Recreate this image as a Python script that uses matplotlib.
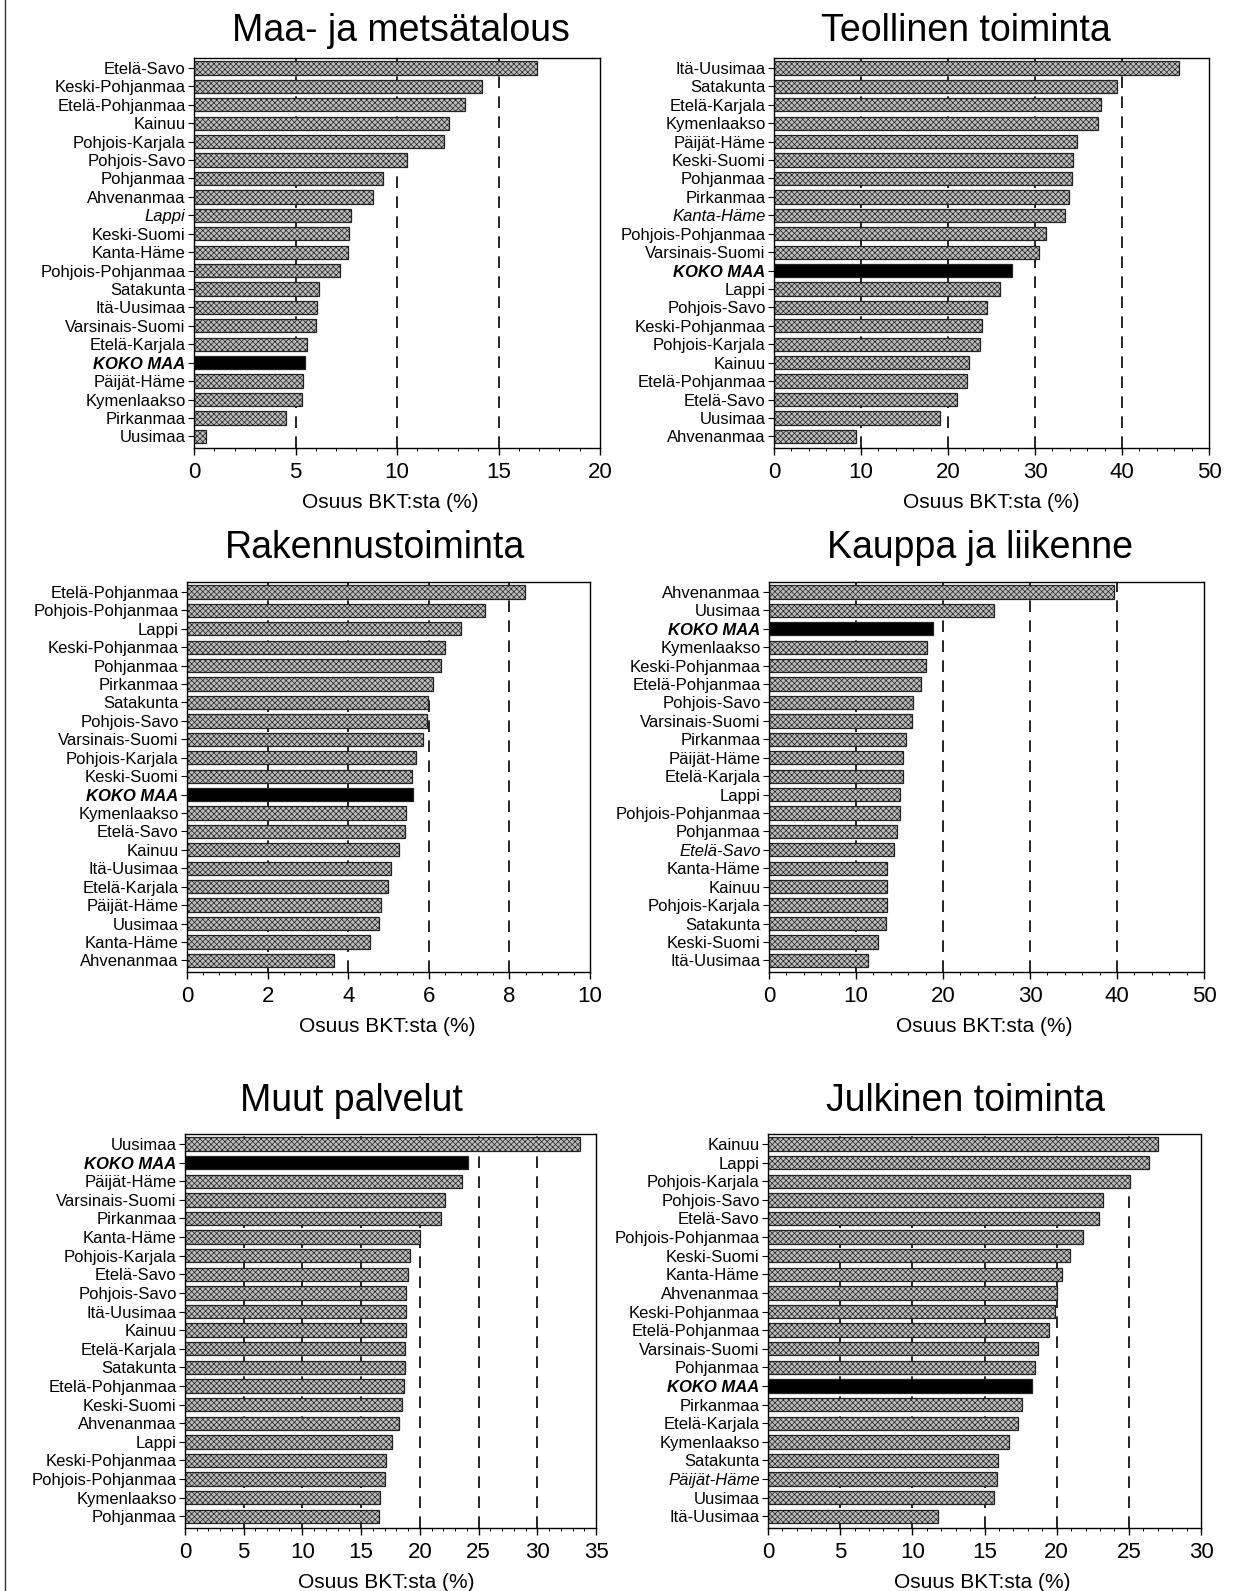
import numpy as np
import matplotlib
matplotlib.use("Agg")
import matplotlib.pyplot as plt
from matplotlib.lines import Line2D

plt.rcParams['font.family'] = ['Liberation Sans', 'DejaVu Sans']
plt.rcParams['hatch.color'] = '#5a5a5a'
plt.rcParams['hatch.linewidth'] = 0.5

# --- data, listed top -> bottom ---
maa_labels = ["Etelä-Savo", "Keski-Pohjanmaa", "Etelä-Pohjanmaa", "Kainuu", "Pohjois-Karjala",
              "Pohjois-Savo", "Pohjanmaa", "Ahvenanmaa", "Lappi", "Keski-Suomi", "Kanta-Häme",
              "Pohjois-Pohjanmaa", "Satakunta", "Itä-Uusimaa", "Varsinais-Suomi", "Etelä-Karjala",
              "KOKO MAA", "Päijät-Häme", "Kymenlaakso", "Pirkanmaa", "Uusimaa"]
maa_values = [16.9, 14.2, 13.35, 12.55, 12.3, 10.5, 9.3, 8.8, 7.75, 7.65, 7.6,
              7.2, 6.15, 6.05, 6.0, 5.55, 5.45, 5.35, 5.3, 4.55, 0.6]

teol_labels = ["Itä-Uusimaa", "Satakunta", "Etelä-Karjala", "Kymenlaakso", "Päijät-Häme",
               "Keski-Suomi", "Pohjanmaa", "Pirkanmaa", "Kanta-Häme", "Pohjois-Pohjanmaa",
               "Varsinais-Suomi", "KOKO MAA", "Lappi", "Pohjois-Savo", "Keski-Pohjanmaa",
               "Pohjois-Karjala", "Kainuu", "Etelä-Pohjanmaa", "Etelä-Savo", "Uusimaa", "Ahvenanmaa"]
teol_values = [46.5, 39.4, 37.6, 37.2, 34.8, 34.4, 34.2, 33.9, 33.4, 31.3,
               30.5, 27.4, 26.0, 24.5, 23.9, 23.7, 22.4, 22.2, 21.0, 19.1, 9.4]

rak_labels = ["Etelä-Pohjanmaa", "Pohjois-Pohjanmaa", "Lappi", "Keski-Pohjanmaa", "Pohjanmaa",
              "Pirkanmaa", "Satakunta", "Pohjois-Savo", "Varsinais-Suomi", "Pohjois-Karjala",
              "Keski-Suomi", "KOKO MAA", "Kymenlaakso", "Etelä-Savo", "Kainuu", "Itä-Uusimaa",
              "Etelä-Karjala", "Päijät-Häme", "Uusimaa", "Kanta-Häme", "Ahvenanmaa"]
rak_values = [8.38, 7.4, 6.8, 6.39, 6.31, 6.1, 5.98, 5.95, 5.86, 5.67,
              5.58, 5.6, 5.43, 5.4, 5.25, 5.05, 4.99, 4.81, 4.76, 4.55, 3.64]

kauppa_labels = ["Ahvenanmaa", "Uusimaa", "KOKO MAA", "Kymenlaakso", "Keski-Pohjanmaa",
                 "Etelä-Pohjanmaa", "Pohjois-Savo", "Varsinais-Suomi", "Pirkanmaa", "Päijät-Häme",
                 "Etelä-Karjala", "Lappi", "Pohjois-Pohjanmaa", "Pohjanmaa", "Etelä-Savo",
                 "Kanta-Häme", "Kainuu", "Pohjois-Karjala", "Satakunta", "Keski-Suomi", "Itä-Uusimaa"]
kauppa_values = [39.7, 25.9, 18.9, 18.2, 18.0, 17.5, 16.5, 16.4, 15.8, 15.4,
                 15.4, 15.0, 15.0, 14.7, 14.4, 13.6, 13.6, 13.6, 13.5, 12.5, 11.4]

muut_labels = ["Uusimaa", "KOKO MAA", "Päijät-Häme", "Varsinais-Suomi", "Pirkanmaa", "Kanta-Häme",
               "Pohjois-Karjala", "Etelä-Savo", "Pohjois-Savo", "Itä-Uusimaa", "Kainuu",
               "Etelä-Karjala", "Satakunta", "Etelä-Pohjanmaa", "Keski-Suomi", "Ahvenanmaa",
               "Lappi", "Keski-Pohjanmaa", "Pohjois-Pohjanmaa", "Kymenlaakso", "Pohjanmaa"]
muut_values = [33.6, 24.1, 23.6, 22.1, 21.8, 20.0, 19.2, 18.95, 18.85, 18.85, 18.8,
               18.7, 18.7, 18.65, 18.5, 18.2, 17.65, 17.1, 17.0, 16.6, 16.55]

julk_labels = ["Kainuu", "Lappi", "Pohjois-Karjala", "Pohjois-Savo", "Etelä-Savo",
               "Pohjois-Pohjanmaa", "Keski-Suomi", "Kanta-Häme", "Ahvenanmaa", "Keski-Pohjanmaa",
               "Etelä-Pohjanmaa", "Varsinais-Suomi", "Pohjanmaa", "KOKO MAA", "Pirkanmaa",
               "Etelä-Karjala", "Kymenlaakso", "Satakunta", "Päijät-Häme", "Uusimaa", "Itä-Uusimaa"]
julk_values = [27.0, 26.4, 25.1, 23.2, 22.9, 21.85, 20.9, 20.4, 20.0, 19.85,
               19.5, 18.7, 18.5, 18.3, 17.6, 17.35, 16.7, 15.95, 15.85, 15.65, 11.75]

titles = ["Maa- ja metsätalous", "Teollinen toiminta", "Rakennustoiminta",
          "Kauppa ja liikenne", "Muut palvelut", "Julkinen toiminta"]
xmaxes = [20, 50, 10, 50, 35, 30]
xsteps = [5, 10, 2, 10, 5, 5]
xlabel = "Osuus BKT:sta (%)"

# labels that are set in italic in the original print
italic_sets = [["Lappi"], ["Kanta-Häme"], [], ["Etelä-Savo"], [], ["Päijät-Häme"]]

all_labels = [maa_labels, teol_labels, rak_labels, kauppa_labels, muut_labels, julk_labels]
all_values = [maa_values, teol_values, rak_values, kauppa_values, muut_values, julk_values]

# axes boxes in pixels: left, right, top, bottom (figure is 1238 x 1591)
W, H = 1238, 1591
boxes = [(194, 600, 58, 448), (774, 1209, 58, 448),
         (187, 590, 582, 972), (769, 1204, 582, 972),
         (185, 596, 1134, 1528), (768, 1201, 1134, 1528)]
# title centres (x, y) and x-label centres, in pixels
title_pos = [(401, 31), (966, 31), (375, 548), (980, 548), (351, 1101), (966, 1101)]
xlabel_x = [390, 991, 387, 984, 386, 982]

fig = plt.figure(figsize=(W / 100, H / 100), dpi=100)

for k in range(6):
    l, r, t, b = boxes[k]
    ax = fig.add_axes([l / W, 1 - b / H, (r - l) / W, (b - t) / H])
    labels = all_labels[k]
    vals = np.array(all_values[k])
    n = len(labels)
    ypos = np.arange(n)[::-1]

    ticks = np.arange(0, xmaxes[k] + 0.001, xsteps[k])
    for xv in ticks[1:-1]:
        ax.axvline(xv, color='black', linestyle=(0, (7, 5)), linewidth=1.2, zorder=0)

    colors = ['black' if lab == "KOKO MAA" else '#bcbcbc' for lab in labels]
    hatches = ['' if lab == "KOKO MAA" else 'xxxxxx' for lab in labels]
    bars = ax.barh(ypos, vals, height=0.72, color=colors, edgecolor='#222222',
                   linewidth=0.9, zorder=2)
    for bar, h in zip(bars, hatches):
        bar.set_hatch(h)

    ax.set_xlim(0, xmaxes[k])
    ax.set_ylim(-0.63, n - 0.46)
    ax.set_xticks(ticks)
    ax.set_xticklabels([str(int(v)) for v in ticks], fontsize=16)
    ax.set_xticks(np.arange(0, xmaxes[k] + 0.001, xsteps[k] / 5.0), minor=True)
    ax.tick_params(axis='x', which='major', length=5, width=1, pad=5)
    ax.tick_params(axis='x', which='minor', length=2.5, width=0.7)
    ax.set_yticks(ypos)
    ax.set_yticklabels(labels, fontsize=12)
    ax.tick_params(axis='y', length=4, width=0.8, pad=2)
    for tl in ax.get_yticklabels():
        if tl.get_text() == "KOKO MAA":
            tl.set_fontweight('bold')
            tl.set_fontstyle('italic')
        elif tl.get_text() in italic_sets[k]:
            tl.set_fontstyle('italic')
    for sp in ax.spines.values():
        sp.set_linewidth(1.0)

    tx, ty = title_pos[k]
    fig.text(tx / W, 1 - ty / H, titles[k], ha='center', va='center', fontsize=27)
    fig.text(xlabel_x[k] / W, 1 - (b + 54) / H, xlabel, ha='center', va='center', fontsize=15)

# scanned page border on the left
fig.add_artist(Line2D([5 / W, 5 / W], [0, 1], color='#333333', linewidth=1.0))

fig.savefig("out.png", dpi=100)
